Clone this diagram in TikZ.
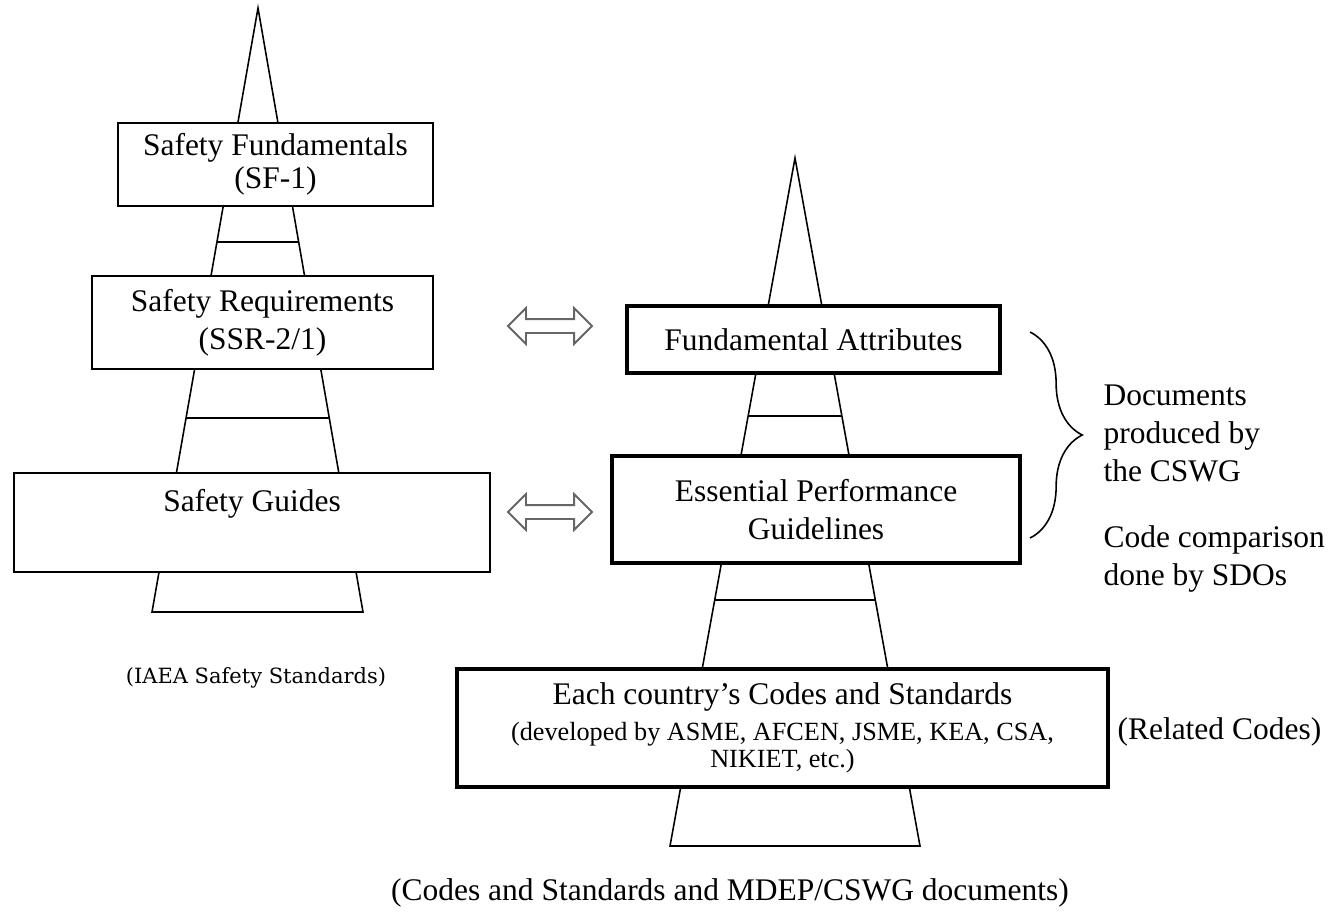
\documentclass[tikz,border=0pt]{standalone}
\usepackage{fontspec}
\setmainfont{Liberation Serif}
\newfontfamily\iaeafont{DejaVu Serif}
\usetikzlibrary{calc,shapes.arrows,decorations.pathreplacing}
\newcommand{\pu}{0.0134cm}

\begin{document}
\begin{tikzpicture}[x=\pu, y=-\pu, every node/.style={font=\fontsize{12pt}{14.5pt}\selectfont, align=center}, lbox/.style={draw=black, line width=0.8pt, fill=white, inner sep=0pt}, rbox/.style={draw=black, line width=1.8pt, fill=white, inner sep=0pt}, tower/.style={draw=black, line width=0.6pt}, dblarrow/.style={double arrow, draw=black!60, line width=0.7pt, fill=white, minimum height=84*\pu, minimum width=0pt, double arrow head extend=11*\pu, inner sep=6*\pu}, note/.style={inner sep=0pt}]
			\useasboundingbox (0,0) rectangle (1336,918);
			
			\coordinate (lapex) at (258,8);
			\coordinate (lbl) at (152,612);
			\coordinate (lbr) at (363,612);
			\coordinate (rapex) at (795,158);
			\coordinate (rbl) at (670,846);
			\coordinate (rbr) at (920,846);
			
			\draw[tower] (lapex) -- (lbl) -- (lbr) -- cycle;
			\draw[tower] ($(lapex)!0.387!(lbl)$) -- ($(lapex)!0.387!(lbr)$);
			\draw[tower] ($(lapex)!0.679!(lbl)$) -- ($(lapex)!0.679!(lbr)$);
			\draw[tower] (rapex) -- (rbl) -- (rbr) -- cycle;
			\draw[tower] ($(rapex)!0.375!(rbl)$) -- ($(rapex)!0.375!(rbr)$);
			\draw[tower] ($(rapex)!0.642!(rbl)$) -- ($(rapex)!0.642!(rbr)$);
			
			\node[lbox, minimum width=315*\pu, minimum height=83*\pu] (sf) at (275.5,164.5){Safety Fundamentals\\[-2pt](SF-1)};
			\node[lbox, minimum width=341*\pu, minimum height=93*\pu] (sr) at (262.5,322.5){Safety Requirements\\(SSR-2/1)};
			\node[lbox, minimum width=476*\pu, minimum height=99*\pu] (sg) at (252,522.5){Safety Guides\\[2pt]\mbox{}};
			
			\node[rbox, minimum width=373*\pu, minimum height=67*\pu] (fa) at (813.5,339.5){Fundamental Attributes};
			\node[rbox, minimum width=408*\pu, minimum height=107*\pu] (epg) at (816,509.5){Essential Performance\\Guidelines};
			\node[rbox, minimum width=651*\pu, minimum height=118*\pu, font=\fontsize{12pt}{13.5pt}\selectfont] (ecs) at (782.5,728){Each country’s Codes and Standards\\\fontsize{10pt}{12pt}\selectfont (developed by ASME, AFCEN, JSME, KEA, CSA,\\[-3pt]\fontsize{10pt}{12pt}\selectfont NIKIET, etc.)};
			
			\node[dblarrow] (arr1) at (550,326){};
			\node[dblarrow] (arr2) at (550,512){};
			
			\coordinate (btop) at (1030,332);
			\coordinate (bbot) at (1030,538);
			\draw[line width=0.6pt, decorate, decoration={brace, amplitude=0.7cm}] (btop) -- (bbot);
			
			\node[note, anchor=west, align=left] (docs) at (1103,433){Documents\\produced by\\the CSWG};
			\node[note, anchor=west, align=left] (cmp) at (1103,559){Code comparison\\done by SDOs};
			\node[note, anchor=west] (rel) at (1117,732){(Related Codes)};
			\node[note, font=\iaeafont\fontsize{8pt}{9.5pt}\selectfont] (iaea) at (256,678){(IAEA Safety Standards)};
			\node[note] (caption) at (730,893){(Codes and Standards and MDEP/CSWG documents)};
			\end{tikzpicture}
\end{document}
